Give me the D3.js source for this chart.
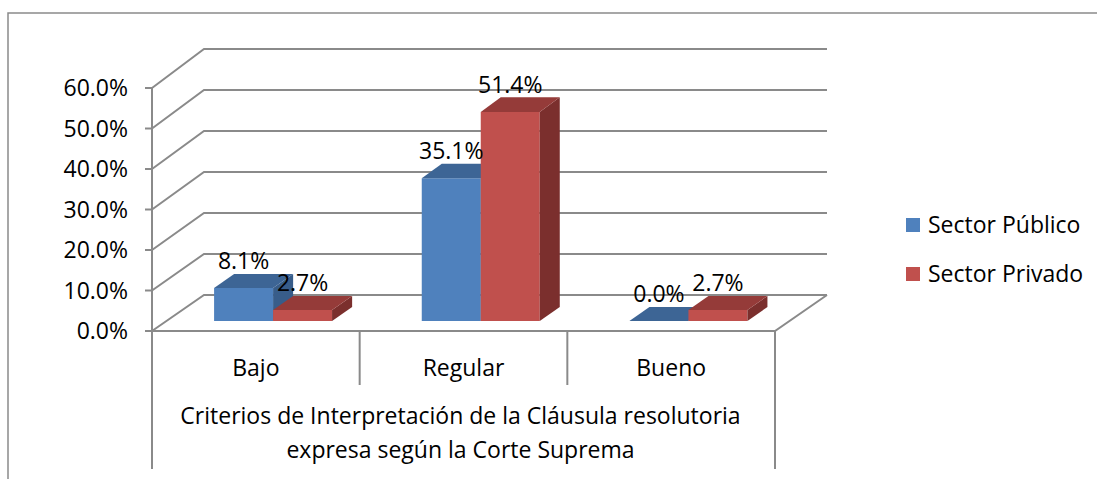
<!DOCTYPE html>
<html>
<head>
<meta charset="utf-8">
<script src="https://cdn.jsdelivr.net/npm/d3@7"></script>
<style>
  html, body { margin: 0; padding: 0; background: #fff; }
  svg { display: block; }
  text { font-family: "Open Sans", "Noto Sans", sans-serif; fill: #000; }
</style>
</head>
<body>
<svg id="chart" width="1097" height="479"></svg>
<script>
// Data
const categories = ["Bajo", "Regular", "Bueno"];
const seriesNames = ["Sector Público", "Sector Privado"];
const sectorPublico = [0.081, 0.351, 0.0];
const sectorPrivado = [0.027, 0.514, 0.027];
const yTicks = [0, 0.1, 0.2, 0.3, 0.4, 0.5, 0.6];
const axisTitle = ["Criterios de Interpretación de la Cláusula resolutoria", "expresa según la Corte Suprema"];

const seriesValues = [sectorPublico, sectorPrivado];
const faceColors = [
  { front: "#4F81BD", top: "#3D6595", side: "#385D8A" },
  { front: "#C0504D", top: "#953B39", side: "#7B2F2D" }
];

const svg = d3.select("#chart");
const grid = "#8a8a8a";
const fontSize = 23;

// Pseudo-3D frame: front plane, back wall offset by depth
const x = d3.scaleBand().domain(categories).range([152, 775]);
const xSeries = d3.scaleBand().domain(seriesNames).range([0, x.bandwidth()]).paddingOuter(0.76).align(0.53);
const yFront = d3.scaleLinear().domain([0, 0.6]).range([331, 88]);
const yBack = d3.scaleLinear().domain([0, 0.6]).range([295, 49]);
const depthX = 52;

function proj(xf, v, z) {
  const yf = yFront(v), yb = yBack(v);
  return [xf + z * depthX, yf + z * (yb - yf)];
}

// Outer chart border
svg.append("path")
  .attr("d", "M8,479 L8,13 L1097,13")
  .attr("fill", "none").attr("stroke", grid).attr("stroke-width", 1.5);

// Side wall and back wall gridlines
const xL = x.range()[0], xR = x.range()[1];
yTicks.forEach(t => {
  const a = proj(xL, t, 0), b = proj(xL, t, 1), c = proj(xR, t, 1);
  svg.append("path")
    .attr("d", `M${a[0]},${a[1]} L${b[0]},${b[1]} L${c[0]},${c[1]}`)
    .attr("fill", "none").attr("stroke", grid).attr("stroke-width", 2);
});

// Floor: front edge and right edge
{
  const a = proj(xL, 0, 0), b = proj(xR, 0, 0), c = proj(xR, 0, 1);
  svg.append("path")
    .attr("d", `M${a[0]},${a[1]} L${b[0]},${b[1]} L${c[0]},${c[1]}`)
    .attr("fill", "none").attr("stroke", grid).attr("stroke-width", 2);
}

// Vertical axis with ticks and labels
svg.append("line")
  .attr("x1", xL).attr("x2", xL)
  .attr("y1", yFront(0.6)).attr("y2", yFront(0))
  .attr("stroke", grid).attr("stroke-width", 2);
const yAxisG = svg.append("g");
yTicks.forEach(t => {
  yAxisG.append("line")
    .attr("x1", xL - 7).attr("x2", xL).attr("y1", yFront(t)).attr("y2", yFront(t))
    .attr("stroke", grid).attr("stroke-width", 2);
  yAxisG.append("text")
    .attr("x", 128).attr("y", yFront(t) + 8)
    .attr("text-anchor", "end").attr("font-size", fontSize)
    .text(d3.format(".1%")(t));
});

// Category dividers below the floor
const dividers = [xL].concat(categories.map(c => x(c) + x.bandwidth()));
dividers.forEach((d, i) => {
  const outer = i === 0 || i === dividers.length - 1;
  svg.append("line")
    .attr("x1", d).attr("x2", d)
    .attr("y1", yFront(0)).attr("y2", outer ? 469 : 385)
    .attr("stroke", grid).attr("stroke-width", 2);
});

// Category labels
categories.forEach(c => {
  svg.append("text")
    .attr("x", x(c) + x.bandwidth() / 2).attr("y", 376)
    .attr("text-anchor", "middle").attr("font-size", fontSize)
    .text(c);
});

// Axis title
axisTitle.forEach((line, i) => {
  svg.append("text")
    .attr("x", (xL + xR) / 2 - 3).attr("y", 424 + i * 34)
    .attr("text-anchor", "middle").attr("font-size", fontSize)
    .text(line);
});

// 3D bars
const z0 = 0.28, z1 = 0.665;
const barsG = svg.append("g");
const labelsG = svg.append("g");
categories.forEach((c, ci) => {
  seriesNames.forEach((s, si) => {
    const v = seriesValues[si][ci];
    const xl = x(c) + xSeries(s), xr = xl + xSeries.bandwidth();
    const col = faceColors[si];
    const p = (xx, vv, zz) => proj(xx, vv, zz).join(",");
    // front face
    if (v > 0) {
      barsG.append("path")
        .attr("d", `M${p(xl, 0, z0)} L${p(xr, 0, z0)} L${p(xr, v, z0)} L${p(xl, v, z0)} Z`)
        .attr("fill", col.front);
    }
    // right side face
    barsG.append("path")
      .attr("d", `M${p(xr, 0, z0)} L${p(xr, 0, z1)} L${p(xr, v, z1)} L${p(xr, v, z0)} Z`)
      .attr("fill", col.side);
    // top face
    barsG.append("path")
      .attr("d", `M${p(xl, v, z0)} L${p(xr, v, z0)} L${p(xr, v, z1)} L${p(xl, v, z1)} Z`)
      .attr("fill", col.top);
    // value label
    const top = proj((xl + xr) / 2, v, z0);
    labelsG.append("text")
      .attr("x", top[0]).attr("y", top[1] - 19)
      .attr("text-anchor", "middle").attr("font-size", fontSize)
      .text(d3.format(".1%")(v));
  });
});

// Legend
const legend = svg.append("g");
seriesNames.forEach((s, i) => {
  legend.append("rect")
    .attr("x", 906).attr("y", 218 + i * 49).attr("width", 14).attr("height", 14)
    .attr("fill", faceColors[i].front);
  legend.append("text")
    .attr("x", 928).attr("y", 233 + i * 49)
    .attr("font-size", fontSize)
    .text(s);
});
</script>
</body>
</html>
